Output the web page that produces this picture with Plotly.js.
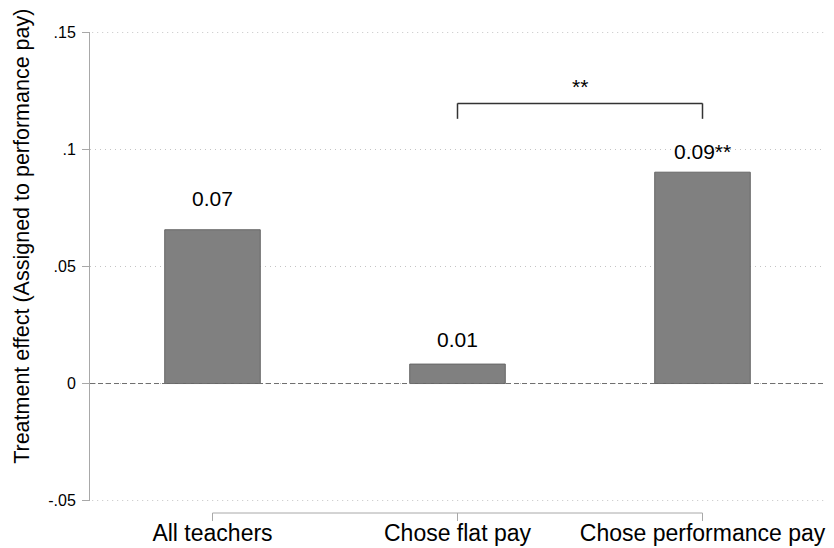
<!DOCTYPE html>
<html><head><meta charset="utf-8">
<script src="https://cdn.plot.ly/plotly-3.0.1.min.js"></script>
<style>html,body{margin:0;padding:0;background:#fff}</style>
</head><body><div id="chart" style="width:834px;height:548px"></div>
<script>
// ---- data ----
const categories = ['All teachers', 'Chose flat pay', 'Chose performance pay'];
const effects = [0.0657, 0.0083, 0.0903];
const valueLabels = ['0.07', '0.01', '0.09**'];
const yTickVals = [-0.05, 0, 0.05, 0.1, 0.15];
const yTickText = ['-.05', '0', '.05', '.1', '.15'];
const bracketPair = [1, 2];
const bracketLabel = '**';
const bracketLevel = 0.1197;
const yTitle = 'Treatment effect (Assigned to performance pay)';

// ---- style ----
const FONT = 'Liberation Sans, Arial, Helvetica, sans-serif';
const labelShift = [31, 25, 21];
const bracketDrop = 0.0066;
const axisGrey = '#a8a8a8';
const gridGrey = '#c4c4c4';
const gridDash = '1px,4px';

const idx = categories.map((_, i) => i);

const trace = {
  type: 'bar',
  x: idx,
  y: effects,
  width: 0.39,
  marker: {color: '#808080', line: {color: '#666666', width: 1}},
  hoverinfo: 'skip'
};

const annotations = idx.map(i => ({
  x: i, y: effects[i], xref: 'x', yref: 'y',
  text: valueLabels[i], showarrow: false,
  yanchor: 'middle', yshift: labelShift[i],
  font: {family: FONT, size: 21, color: '#000'}
}));
annotations.push({
  x: (bracketPair[0] + bracketPair[1]) / 2, y: bracketLevel, xref: 'x', yref: 'y',
  text: bracketLabel, showarrow: false, yanchor: 'bottom', yshift: 3,
  font: {family: FONT, size: 21, color: '#000'}
});
annotations.push({
  x: -0.092, y: 0.564, xref: 'paper', yref: 'paper',
  text: yTitle, textangle: -90, showarrow: false,
  xanchor: 'center', yanchor: 'middle',
  font: {family: FONT, size: 21.5, color: '#000'}
});

const shapes = [];
// gridlines at the two ends of the y range (Plotly omits them at the edges)
[yTickVals[0], yTickVals[yTickVals.length - 1]].forEach(v => shapes.push({
  type: 'line', xref: 'paper', x0: 0.003, x1: 1, yref: 'y', y0: v, y1: v,
  line: {color: gridGrey, width: 1, dash: gridDash}, layer: 'below'}));
// mask the grid under the zero line, then dashed zero line
shapes.push({type: 'line', xref: 'paper', x0: 0.002, x1: 1, yref: 'y', y0: 0, y1: 0,
  line: {color: '#ffffff', width: 2}, layer: 'between'});
shapes.push({type: 'line', xref: 'paper', x0: 0, x1: 1, yref: 'y', y0: 0, y1: 0,
  line: {color: '#6e6e6e', width: 1, dash: '5px,3px'}, layer: 'above'});
// x axis line spanning categories (Stata style)
shapes.push({type: 'line', xref: 'x', x0: idx[0], x1: idx[idx.length - 1],
  yref: 'paper', ysizemode: 'pixel', yanchor: 0, y0: -12, y1: -12,
  line: {color: axisGrey, width: 1}});
idx.forEach(i => shapes.push({type: 'line', xref: 'x', x0: i, x1: i,
  yref: 'paper', ysizemode: 'pixel', yanchor: 0, y0: -12, y1: -20,
  line: {color: axisGrey, width: 1}}));
// significance bracket
const bx0 = bracketPair[0], bx1 = bracketPair[1];
const bl = {color: '#333333', width: 1.5};
shapes.push({type: 'line', xref: 'x', yref: 'y', x0: bx0, x1: bx1, y0: bracketLevel, y1: bracketLevel, line: bl});
shapes.push({type: 'line', xref: 'x', yref: 'y', x0: bx0, x1: bx0, y0: bracketLevel, y1: bracketLevel - bracketDrop, line: bl});
shapes.push({type: 'line', xref: 'x', yref: 'y', x0: bx1, x1: bx1, y0: bracketLevel, y1: bracketLevel - bracketDrop, line: bl});

const layout = {
  width: 834, height: 548,
  margin: {l: 90, r: 9, t: 32, b: 47, pad: 0},
  paper_bgcolor: '#fff', plot_bgcolor: '#fff',
  showlegend: false,
  font: {family: FONT, color: '#000'},
  xaxis: {
    range: [-0.5, 2.5],
    tickmode: 'array', tickvals: idx, ticktext: categories,
    showline: false, showgrid: false, zeroline: false,
    ticks: 'outside', ticklen: 11, tickcolor: 'rgba(0,0,0,0)',
    tickfont: {family: FONT, size: 23, color: '#000'},
    fixedrange: true
  },
  yaxis: {
    range: [-0.0502, 0.1502],
    tickmode: 'array', tickvals: yTickVals, ticktext: yTickText,
    showline: true, linecolor: axisGrey, linewidth: 1,
    ticks: 'outside', ticklen: 7, tickcolor: axisGrey, tickwidth: 1,
    tickfont: {family: FONT, size: 16, color: '#000'},
    ticklabelstandoff: 3,
    showgrid: true, gridcolor: gridGrey, griddash: gridDash, gridwidth: 1,
    zeroline: false,
    fixedrange: true
  },
  annotations: annotations,
  shapes: shapes
};

Plotly.newPlot('chart', [trace], layout, {displayModeBar: false, staticPlot: true});
</script>
</body></html>
